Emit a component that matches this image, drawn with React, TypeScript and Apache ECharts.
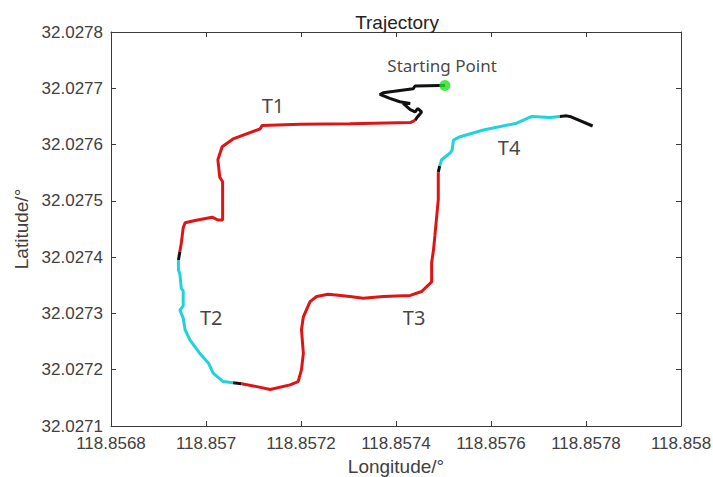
import React, { useEffect, useRef } from "react";
import * as echarts from "echarts";

// Axis ranges / ticks
const lonMin = 118.8568;
const lonMax = 118.858;
const lonStep = 0.0002;
const latMin = 32.0271;
const latMax = 32.0278;
const latStep = 0.0001;

// Trajectory segments, [longitude, latitude]
const startBlack: number[][] = [
  [118.857503, 32.027705], [118.857493, 32.027705], [118.85744, 32.027704], [118.857436, 32.027699],
  [118.857373, 32.027692], [118.857366, 32.027689], [118.857387, 32.027682], [118.857408, 32.027676],
  [118.85743, 32.027673], [118.857415, 32.027673], [118.85743, 32.027662], [118.85744, 32.027658],
  [118.857446, 32.027664], [118.857454, 32.027658], [118.857446, 32.02765], [118.85744, 32.027643],
];
const t1Red: number[][] = [
  [118.85744, 32.027643], [118.85743, 32.027639], [118.857303, 32.027637], [118.857198, 32.027636],
  [118.857118, 32.027634], [118.857114, 32.027628], [118.857057, 32.02761], [118.857034, 32.027596],
  [118.857025, 32.027573], [118.857029, 32.027542], [118.857035, 32.027534], [118.857035, 32.027466],
  [118.857025, 32.027466], [118.857013, 32.027471], [118.856977, 32.027465], [118.856956, 32.027461],
  [118.856952, 32.027452], [118.856948, 32.027425], [118.856945, 32.02741],
];
const gap1Black: number[][] = [[118.856945, 32.02741], [118.856942, 32.027395]];
const t2Cyan: number[][] = [
  [118.856942, 32.027395], [118.856942, 32.027377], [118.856945, 32.02737], [118.856948, 32.027345],
  [118.856952, 32.02734], [118.856952, 32.027313], [118.856945, 32.027306], [118.856952, 32.027292],
  [118.856956, 32.027271], [118.856966, 32.027253], [118.856987, 32.027229], [118.857005, 32.027212],
  [118.857015, 32.027194], [118.857036, 32.027179], [118.857057, 32.027177],
];
const gap2Black: number[][] = [[118.857057, 32.027177], [118.857075, 32.027175]];
const t3Red: number[][] = [
  [118.857075, 32.027175], [118.857107, 32.02717], [118.857135, 32.027165], [118.857177, 32.027173],
  [118.857194, 32.027179], [118.857201, 32.0272], [118.857205, 32.027229], [118.857201, 32.027271],
  [118.857205, 32.027294], [118.857219, 32.027321], [118.857233, 32.02733], [118.857257, 32.027334],
  [118.857268, 32.027333], [118.857303, 32.02733], [118.857331, 32.027327], [118.857373, 32.02733],
  [118.85743, 32.027332], [118.857454, 32.027339], [118.857475, 32.027356], [118.857475, 32.02739],
  [118.857479, 32.027413], [118.857482, 32.027439], [118.857489, 32.027502], [118.857489, 32.027551],
];
const gap3Black: number[][] = [[118.857489, 32.027551], [118.857492, 32.027562]];
const t4Cyan: number[][] = [
  [118.857492, 32.027562], [118.857496, 32.027573], [118.857514, 32.027585], [118.857518, 32.02759],
  [118.857521, 32.027608], [118.857535, 32.027614], [118.857584, 32.027626], [118.857654, 32.027638],
  [118.857686, 32.02765], [118.857724, 32.027648], [118.857745, 32.02765],
];
const endBlack: number[][] = [
  [118.857745, 32.02765], [118.857759, 32.027651], [118.857766, 32.02765], [118.857814, 32.027633],
];
const startPoint: number[][] = [[118.857503, 32.027705]];

// Text labels placed in data coordinates
const segmentLabels = ["T1", "T2", "T3", "T4"];
const segmentLabelPos: number[][] = [
  [118.857141, 32.02767], [118.857011, 32.027292], [118.857438, 32.027292], [118.857638, 32.027594],
];
const startLabel = "Starting Point";
const startLabelPos: number[] = [118.857497, 32.027741];

const RED = "#e01414";
const CYAN = "#1fd3dc";
const BLACK = "#111111";
const AXIS = "#3a3a3a";
const TXT = "#404040";

const fmt = (v: number) => String(parseFloat(v.toFixed(4)));

export default function App() {
  const ref = useRef<HTMLDivElement>(null);
  useEffect(() => {
    if (!ref.current) return;
    const chart = echarts.init(ref.current, undefined, { renderer: "svg" });
    const lineSeries = (data: number[][], color: string) => ({
      type: "line",
      data,
      showSymbol: false,
      symbol: "none",
      smooth: false,
      lineStyle: { color, width: 3 },
      z: 2,
    });
    const axisCommon = {
      type: "value",
      axisLine: { show: true, lineStyle: { color: AXIS, width: 1 } },
      axisTick: { show: true, inside: true, length: 5, lineStyle: { color: AXIS } },
      splitLine: { show: false },
    };
    chart.setOption({
      animation: false,
      backgroundColor: "#ffffff",
      title: {
        text: "Trajectory",
        left: 392,
        textAlign: "center",
        top: 8,
        textStyle: { fontFamily: "Liberation Sans", fontSize: 19, fontWeight: "normal", color: "#222" },
      },
      grid: { left: 111, right: 32, top: 32, bottom: 51, containLabel: false, outerBoundsMode: "none" },
      xAxis: [
        {
          ...axisCommon,
          min: lonMin,
          max: lonMax,
          interval: lonStep,
          name: "Longitude/°",
          nameLocation: "middle",
          nameGap: 28,
          nameTextStyle: { fontFamily: "Liberation Sans", fontSize: 19, color: TXT },
          axisLabel: { formatter: fmt, fontFamily: "Liberation Sans", fontSize: 17, color: TXT, margin: 9, showMinLabel: true, showMaxLabel: true },
        },
        {
          ...axisCommon,
          position: "top",
          min: lonMin,
          max: lonMax,
          interval: lonStep,
          axisLabel: { show: false },
        },
      ],
      yAxis: [
        {
          ...axisCommon,
          min: latMin,
          max: latMax,
          interval: latStep,
          name: "Latitude/°",
          nameLocation: "middle",
          nameGap: 74,
          nameRotate: 90,
          nameTextStyle: { fontFamily: "Liberation Sans", fontSize: 19, color: TXT },
          axisLabel: { formatter: fmt, fontFamily: "Liberation Sans", fontSize: 17, color: TXT, margin: 8 },
        },
        {
          ...axisCommon,
          position: "right",
          min: latMin,
          max: latMax,
          interval: latStep,
          axisLabel: { show: false },
        },
      ],
      series: [
        lineSeries(startBlack, BLACK),
        lineSeries(t1Red, RED),
        lineSeries(gap1Black, BLACK),
        lineSeries(t2Cyan, CYAN),
        lineSeries(gap2Black, BLACK),
        lineSeries(t3Red, RED),
        lineSeries(gap3Black, BLACK),
        lineSeries(t4Cyan, CYAN),
        lineSeries(endBlack, BLACK),
        {
          type: "scatter",
          data: startPoint,
          symbol: "circle",
          symbolSize: 11,
          itemStyle: { color: "#22e022" },
          z: 5,
        },
        {
          type: "scatter",
          data: segmentLabelPos.map((p, i) => ({ value: p, name: segmentLabels[i] })),
          symbolSize: 0,
          silent: true,
          label: {
            show: true,
            position: "inside",
            formatter: (p: any) => p.name,
            fontFamily: "Noto Sans",
            fontSize: 20,
            color: "#111",
          },
          z: 6,
        },
        {
          type: "scatter",
          data: [{ value: startLabelPos, name: startLabel }],
          symbolSize: 0,
          silent: true,
          label: {
            show: true,
            position: "inside",
            formatter: (p: any) => p.name,
            fontFamily: "Noto Sans",
            fontSize: 17,
            color: "#111",
          },
          z: 6,
        },
      ],
    });
    return () => chart.dispose();
  }, []);
  return <div ref={ref} style={{ width: 713, height: 477, position: "absolute", left: 0, top: 0 }} />;
}
